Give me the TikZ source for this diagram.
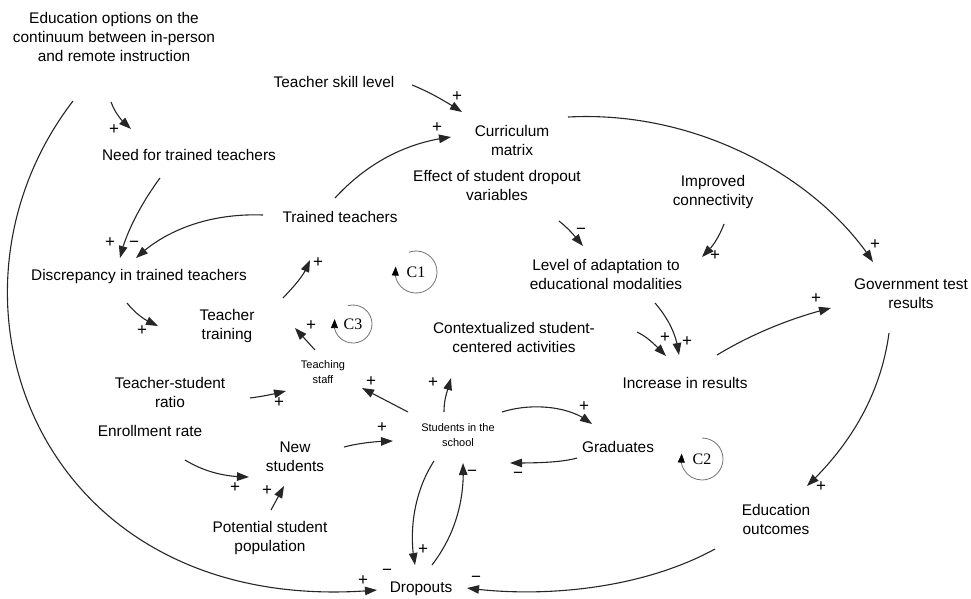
\documentclass[tikz,border=0pt]{standalone}
\usepackage{fontspec}
\setmainfont{Liberation Sans}
\newfontfamily\loopfont{Liberation Serif}
\usetikzlibrary{arrows.meta,bending,calc}

\begin{document}
\begin{tikzpicture}[x=1pt, y=-1pt,
  var/.style={align=center, inner sep=0pt, font=\fontsize{15.4}{19}\selectfont},
  smallvar/.style={align=center, inner sep=0pt, font=\fontsize{11}{15}\selectfont},
  sign/.style={inner sep=0pt, font=\fontsize{17}{17}\selectfont},
  link/.style={-{Triangle[length=12pt,width=8.5pt]}, line width=1.1pt, black!85},
  loopname/.style={inner sep=0pt, font=\loopfont\fontsize{16}{16}\selectfont},
  ring/.style={-{Triangle[length=9pt,width=7pt,color=black,flex]}, line width=0.8pt, black!55}
]
\useasboundingbox (0,0) rectangle (971,598);

% variables
\node[var] (edu) at (114,37) {Education options on the\\continuum between in-person\\and remote instruction};
\node[var] (skill) at (334,82) {Teacher skill level};
\node[var] (curr) at (512,140) {Curriculum\\matrix};
\node[var] (need) at (189,155) {Need for trained teachers};
\node[var] (effect) at (497,185) {Effect of student dropout\\variables};
\node[var] (improved) at (713,192) {Improved\\connectivity};
\node[var] (trained) at (340,217) {Trained teachers};
\node[var] (disc) at (139,277) {Discrepancy in trained teachers};
\node[var] (level) at (606,274) {Level of adaptation to\\educational modalities};
\node[var] (gov) at (911,294) {Government test\\results};
\node[var] (training) at (227,326) {Teacher\\training};
\node[var] (context) at (514,337) {Contextualized student-\\centered activities};
\node[smallvar] (staff) at (323,372) {Teaching\\staff};
\node[var] (ratio) at (170,392) {Teacher-student\\ratio};
\node[var] (increase) at (685,383) {Increase in results};
\node[var] (enroll) at (150,431) {Enrollment rate};
\node[smallvar] (students) at (458,435) {Students in the\\school};
\node[var] (newst) at (295,457) {New\\students};
\node[var] (grad) at (618,447) {Graduates};
\node[var] (potential) at (270,538) {Potential student\\population};
\node[var] (outcomes) at (776,519) {Education\\outcomes};
\node[var] (dropouts) at (421,589) {Dropouts};

% causal links
\draw[link] ($(edu)+(-3,65)$) .. controls +(4,11) and +(-9,-7) .. ($(need)+(-58,-26)$);
\draw[link] ($(edu)+(-41,64)$) .. controls +(-153,199) and +(-337,30) .. ($(dropouts)+(-44,1)$);
\draw[link] ($(skill)+(78,3)$) .. controls +(20,8) and +(-14,-9) .. ($(curr)+(-50,-28)$);
\draw[link] ($(trained)+(-5,-19)$) .. controls +(35,-38) and +(-41,5) .. ($(curr)+(-61,-3)$);
\draw[link] ($(need)+(-29,23)$) .. controls +(-20,27) and +(5,-23) .. ($(disc)+(-19,-19)$);
\draw[link] ($(trained)+(-77,-2)$) .. controls +(-53,-2) and +(29,-28) .. ($(disc)+(-3,-19)$);
\draw[link] ($(disc)+(-12,26)$) .. controls +(8,10) and +(-13,-5) .. ($(training)+(-69,0)$);
\draw[link] ($(training)+(56,-28)$) .. controls +(12,-13) and +(-5,15) .. ($(trained)+(-30,43)$);
\draw[link] ($(staff)+(-8,-22)$) -- ($(training)+(68,2)$);
\draw[link] ($(ratio)+(80,6)$) .. controls +(15,-2) and +(-12,3) .. ($(staff)+(-37,19)$);
\draw[link] ($(students)+(-50,-23)$) -- ($(staff)+(39,16)$);
\draw[link] ($(students)+(-14,-23)$) .. controls +(0,-15) and +(-3,12) .. ($(context)+(-63,41)$);
\draw[link] ($(students)+(44,-23)$) .. controls +(28,-9) and +(-22,-19) .. ($(grad)+(-26,-23)$);
\draw[link] ($(grad)+(-41,11)$) .. controls +(-17,5) and +(20,0) .. ($(students)+(52,28)$);
\draw[link] ($(newst)+(49,-10)$) .. controls +(15,-4) and +(-15,0) .. ($(students)+(-65,6)$);
\draw[link] ($(enroll)+(35,29)$) .. controls +(20,12) and +(-24,0) .. ($(newst)+(-46,20)$);
\draw[link] ($(potential)+(1,-28)$) -- ($(newst)+(-11,29)$);
\draw[link] ($(students)+(-24,26)$) .. controls +(-19,29) and +(-7,-35) .. ($(dropouts)+(-6,-24)$);
\draw[link] ($(dropouts)+(11,-24)$) .. controls +(23,-30) and +(2,37) .. ($(students)+(5,28)$);
\draw[link] ($(outcomes)+(-61,30)$) .. controls +(-75,41) and +(73,10) .. ($(dropouts)+(46,-1)$);
\draw[link] ($(gov)+(-22,39)$) .. controls +(-9,67) and +(38,-36) .. ($(outcomes)+(31,-33)$);
\draw[link] ($(increase)+(32,-28)$) .. controls +(33,-20) and +(-41,10) .. ($(gov)+(-80,14)$);
\draw[link] ($(level)+(49,29)$) .. controls +(13,15) and +(-2,-20) .. ($(increase)+(-6,-28)$);
\draw[link] ($(context)+(123,-5)$) .. controls +(12,6) and +(-12,-12) .. ($(increase)+(-19,-27)$);
\draw[link] ($(improved)+(11,32)$) .. controls +(-6,16) and +(8,-7) .. ($(level)+(96,-17)$);
\draw[link] ($(effect)+(62,36)$) .. controls +(10,8) and +(-10,-12) .. ($(level)+(-23,-28)$);
\draw[link] ($(curr)+(56,-23)$) .. controls +(132,-7) and +(-53,-82) .. ($(gov)+(-38,-32)$);

% polarity signs
\foreach \x/\y/\s [count=\k] in {114/130/+, 457/97/+, 437/128/+, 110/243/+, 134/244/−,
    142/331/+, 318/263/+, 311/326/+, 581/231/−, 715/256/+, 875/245/+, 665/338/+,
    687/342/+, 816/299/+, 821/487/+, 279/403/+, 371/382/+, 433/383/+, 584/407/+,
    382/428/+, 518/475/−, 235/488/+, 267/491/+, 423/550/+, 472/473/−, 363/581/+,
    387/572/−, 476/579/−}
  \node[sign] (s\k) at (\x,\y) {\s};

% loop markers
\node[loopname] (c1) at (416,272) {C1};
\draw[ring] ($(c1)+(-110:21)$) arc[start angle=-110, end angle=195, radius=21];
\node[loopname] (c2) at (702,459) {C2};
\draw[ring] ($(c2)+(-90:21)$) arc[start angle=-90, end angle=195, radius=21];
\node[loopname] (c3) at (353,324) {C3};
\draw[ring] ($(c3)+(-105:19)$) arc[start angle=-105, end angle=195, radius=19];

\end{tikzpicture}
\end{document}
